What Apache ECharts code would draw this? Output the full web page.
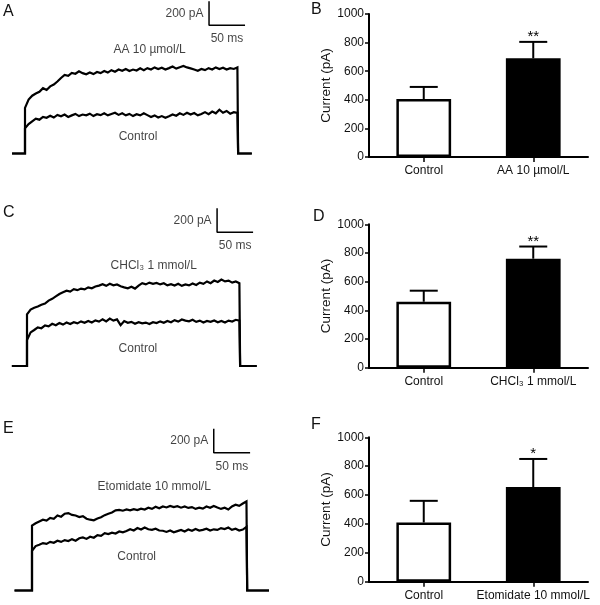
<!DOCTYPE html>
<html><head><meta charset="utf-8">
<script src="https://cdn.jsdelivr.net/npm/echarts@6/dist/echarts.min.js"></script>
<style>html,body{margin:0;padding:0;background:#fff}#c{width:600px;height:605px}</style>
</head><body><div id="c"></div>
<script>
// ---------------- DATA ----------------
// Current traces (pA above holding level), sampled every 5 ms from 0 to 295 ms of the pulse
const sampleStepMs = 5;
const pulseEndMs = 296;
const baselineStartMs = [-18, -21, -24];
const baselineEndMs = [315, 319, 326];
const scaleBarPA = 200;
const scaleBarMs = 50;
const traceDrugNames = ['AA 10 µmol/L', 'CHCl₃ 1 mmol/L', 'Etomidate 10 mmol/L'];
const traceControlName = 'Control';

const controlA = [210,245,268,290,282,305,298,315,300,322,310,325,305,318,330,312,325,318,332,312,
  328,320,335,318,330,340,322,335,318,330,312,328,318,335,320,305,318,300,312,298,
  310,325,315,335,322,340,325,338,318,330,345,328,350,335,365,340,355,332,345,338];
const drugA = [380,450,482,500,515,545,530,560,575,600,630,655,648,672,665,685,670,660,675,662,
  680,670,688,675,695,682,700,690,705,688,700,692,710,695,712,700,718,705,715,700,
  712,725,708,720,730,718,710,700,690,705,695,712,700,718,705,715,700,712,705,718];
const controlC = [217,280,300,322,315,338,330,352,340,358,345,362,350,365,355,372,360,375,362,380,
  370,390,372,395,378,388,340,375,360,368,352,365,355,362,350,365,358,372,360,375,
  365,382,370,388,378,372,385,368,378,362,375,368,380,365,375,362,378,370,385,378];
const drugC = [430,470,485,495,510,520,545,560,580,600,615,628,620,640,632,645,638,655,648,662,
  670,682,668,685,672,680,665,655,648,660,645,670,690,680,695,685,692,680,690,672,
  682,670,685,668,680,672,688,675,695,685,705,690,712,700,720,705,712,695,705,690];
const controlE = [330,370,382,395,388,405,398,415,405,420,412,428,415,435,442,430,448,440,462,455,
  478,470,482,475,492,485,495,510,500,520,508,525,510,505,515,500,498,488,500,485,
  495,505,492,508,498,512,500,505,515,500,510,505,520,512,525,505,515,500,508,530];
const drugE = [540,560,575,590,582,605,598,625,615,640,645,630,625,612,620,598,590,585,600,610,
  628,640,650,668,672,665,675,668,678,670,682,675,690,680,698,685,700,692,705,695,
  702,690,700,688,695,680,690,682,700,690,705,692,680,690,675,700,715,705,725,742];

// Bar charts (mean current, pA, and top of error bar)
const barCategoriesB = ['Control', 'AA 10 µmol/L'];
const barCategoriesD = ['Control', 'CHCl₃ 1 mmol/L'];
const barCategoriesF = ['Control', 'Etomidate 10 mmol/L'];
const barMeanB = [405, 690];
const barMeanD = [460, 760];
const barMeanF = [410, 655];
const barErrTopB = [490, 805];
const barErrTopD = [537, 845];
const barErrTopF = [560, 850];
const significanceB = ['', '**'];
const significanceD = ['', '**'];
const significanceF = ['', '*'];
const yAxisMin = 0, yAxisMax = 1000, yAxisInterval = 200;
const yAxisName = 'Current (pA)';
const panelLetters = ['A', 'B', 'C', 'D', 'E', 'F'];

// ---------------- LAYOUT ----------------
const FONT = '"Liberation Sans", Arial, Helvetica, sans-serif';
const TXT = '#111';

const tracePanels = [
  {ctrl: controlA, drug: drugA, stepX: 25, baseY: 153.5, pxPerMs: 0.72, pxPerPA: 0.12,
   xMin: -30, xMax: 330, yMin: -100, yMax: 1280, bar: [255.6, 1070], drugAt: [173, 862], ctrlAt: [157, 137]},
  {ctrl: controlC, drug: drugC, stepX: 27, baseY: 366, pxPerMs: 0.72, pxPerPA: 0.12,
   xMin: -30, xMax: 335, yMin: -100, yMax: 1330, bar: [264, 1114], drugAt: [176, 835], ctrlAt: [154, 142]},
  {ctrl: controlE, drug: drugE, stepX: 32, baseY: 590.5, pxPerMs: 0.727, pxPerPA: 0.12,
   xMin: -30, xMax: 335, yMin: -100, yMax: 1360, bar: [250, 1148], drugAt: [168, 862], ctrlAt: [144, 279]}
];
const barPanels = [
  {cats: barCategoriesB, mean: barMeanB, err: barErrTopB, sig: significanceB, top: 14, bottom: 157},
  {cats: barCategoriesD, mean: barMeanD, err: barErrTopD, sig: significanceD, top: 224.3, bottom: 367.7},
  {cats: barCategoriesF, mean: barMeanF, err: barErrTopF, sig: significanceF, top: 437.3, bottom: 581.7}
];
const barLeft = 369, barWidthPx = 219;
const letterPos = [[3, 13], [311, 11], [3, 214], [313, 217.5], [3, 429.5], [311, 426]];

// ---------------- BUILD ----------------
const grids = [], xAxes = [], yAxes = [], series = [];

function traceData(values, i) {
  const d = [[baselineStartMs[i], 0], [0, 0]];
  values.forEach((v, k) => d.push([k * sampleStepMs, v]));
  d.push([pulseEndMs, 0]);
  d.push([baselineEndMs[i], 0]);
  return d;
}

tracePanels.forEach((p, i) => {
  const gi = grids.length;
  grids.push({
    left: p.stepX + p.xMin * p.pxPerMs,
    width: (p.xMax - p.xMin) * p.pxPerMs,
    top: p.baseY - p.yMax * p.pxPerPA,
    height: (p.yMax - p.yMin) * p.pxPerPA
  });
  xAxes.push({type: 'value', gridIndex: gi, min: p.xMin, max: p.xMax, show: false});
  yAxes.push({type: 'value', gridIndex: gi, min: p.yMin, max: p.yMax, show: false});
  const lineBase = {type: 'line', xAxisIndex: gi, yAxisIndex: gi, showSymbol: false, symbol: 'none',
    clip: false, silent: true, lineStyle: {color: '#000', width: 2.2, join: 'miter'}, z: 3};
  series.push(Object.assign({}, lineBase, {data: traceData(p.ctrl, i)}));
  series.push(Object.assign({}, lineBase, {data: traceData(p.drug, i)}));
  const [sx, sy] = p.bar;
  series.push(Object.assign({}, lineBase, {
    data: [[sx, sy + scaleBarPA], [sx, sy], [sx + scaleBarMs, sy]],
    lineStyle: {color: '#000', width: 1.5}
  }));
  const lbl = (txt, pos, dist) => ({show: true, formatter: txt, position: pos, distance: dist,
    color: TXT, fontSize: 12, fontFamily: FONT});
  series.push({
    type: 'scatter', xAxisIndex: gi, yAxisIndex: gi, symbolSize: 1, clip: false, silent: true,
    itemStyle: {color: 'rgba(0,0,0,0)'},
    data: [
      {value: [sx, sy + scaleBarPA / 2], label: lbl(scaleBarPA + ' pA', 'left', 5)},
      {value: [sx + scaleBarMs / 2, sy], label: lbl(scaleBarMs + ' ms', 'bottom', 7)},
      {value: p.drugAt, label: lbl(traceDrugNames[i], 'inside', 0)},
      {value: p.ctrlAt, label: lbl(traceControlName, 'inside', 0)}
    ]
  });
});

barPanels.forEach((p, i) => {
  const gi = grids.length;
  grids.push({left: barLeft, width: barWidthPx, top: p.top, height: p.bottom - p.top});
  xAxes.push({
    type: 'category', gridIndex: gi, data: p.cats,
    axisLine: {show: true, lineStyle: {color: '#000', width: 2}},
    axisTick: {show: true, alignWithLabel: true, length: 5, lineStyle: {color: '#000', width: 1.5}},
    axisLabel: {color: TXT, fontSize: 12, fontFamily: FONT, margin: 8, interval: 0}
  });
  yAxes.push({
    type: 'value', gridIndex: gi, min: yAxisMin, max: yAxisMax, interval: yAxisInterval,
    name: yAxisName, nameLocation: 'middle', nameGap: 33,
    nameTextStyle: {color: TXT, fontSize: 13.5, fontFamily: FONT},
    axisLine: {show: true, lineStyle: {color: '#000', width: 2}},
    axisTick: {show: true, length: 4, lineStyle: {color: '#000', width: 1.5}},
    axisLabel: {color: TXT, fontSize: 12, fontFamily: FONT, margin: 5, formatter: v => String(v)},
    splitLine: {show: false}
  });
  series.push({
    type: 'bar', xAxisIndex: gi, yAxisIndex: gi, barWidth: '50%', silent: true, z: 2,
    data: p.mean.map((v, k) => ({
      value: v,
      itemStyle: {color: k === 0 ? '#fff' : '#000', borderColor: '#000', borderWidth: 2.5}
    }))
  });
  series.push({
    type: 'custom', xAxisIndex: gi, yAxisIndex: gi, silent: true, z: 3,
    data: p.mean.map((v, k) => [k, v, p.err[k]]),
    renderItem: (params, api) => {
      const k = api.value(0);
      const base = api.coord([k, api.value(1)]);
      const top = api.coord([k, api.value(2)]);
      const hw = 14;
      const st = {stroke: '#000', lineWidth: 2};
      const children = [
        {type: 'line', shape: {x1: base[0], y1: base[1], x2: top[0], y2: top[1]}, style: st},
        {type: 'line', shape: {x1: top[0] - hw, y1: top[1], x2: top[0] + hw, y2: top[1]}, style: st}
      ];
      const s = p.sig[k];
      if (s) children.push({type: 'text', style: {text: s, x: top[0], y: top[1] - 5,
        align: 'center', verticalAlign: 'middle', font: '15px ' + FONT, fill: '#000'}});
      return {type: 'group', children};
    }
  });
});

const graphics = panelLetters.map((t, i) => ({
  type: 'text', left: letterPos[i][0], top: letterPos[i][1] - 9,
  style: {text: t, font: '16px ' + FONT, fill: TXT}
}));

const chart = echarts.init(document.getElementById('c'), null, {renderer: 'canvas'});
chart.setOption({
  animation: false,
  backgroundColor: '#fff',
  grid: grids, xAxis: xAxes, yAxis: yAxes, series, graphic: graphics
});
</script>
</body></html>
